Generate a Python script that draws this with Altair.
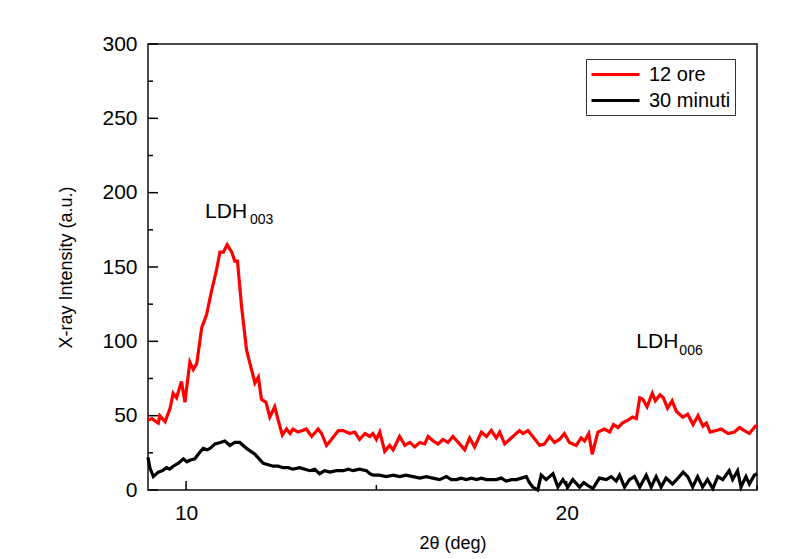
import altair as alt
import pandas as pd

# ---- data ----
red_x = [9.00, 9.10, 9.27, 9.31, 9.45, 9.58, 9.66, 9.75, 9.88, 9.97,
         10.10, 10.19, 10.28, 10.41, 10.54, 10.67, 10.80, 10.89, 10.98, 11.08,
         11.20, 11.28, 11.35, 11.46, 11.59, 11.72, 11.81, 11.90, 11.98, 12.10,
         12.20, 12.33, 12.42, 12.53, 12.64, 12.73, 12.81, 12.94, 13.06, 13.16,
         13.30, 13.47, 13.56, 13.69, 13.82, 14.00, 14.13, 14.30, 14.43, 14.56,
         14.70, 14.83, 14.91, 15.00, 15.09, 15.22, 15.35, 15.44, 15.61, 15.75,
         15.88, 16.01, 16.14, 16.27, 16.36, 16.49, 16.62, 16.75, 16.88, 17.01,
         17.15, 17.32, 17.45, 17.58, 17.76, 17.89, 18.02, 18.15, 18.24, 18.37,
         18.50, 18.63, 18.76, 18.85, 18.98, 19.11, 19.29, 19.42, 19.55, 19.68,
         19.81, 19.94, 20.07, 20.25, 20.38, 20.47, 20.58, 20.67, 20.82, 20.99,
         21.13, 21.23, 21.35, 21.46, 21.61, 21.73, 21.83, 21.92, 22.00, 22.11,
         22.25, 22.33, 22.45, 22.54, 22.65, 22.77, 22.88, 23.05, 23.18, 23.32,
         23.45, 23.58, 23.67, 23.77, 23.93, 24.06, 24.24, 24.41, 24.54, 24.67,
         24.80, 24.96, 25.00]
red_y = [47, 48, 45, 50, 46, 55, 65, 62, 73, 59,
         86, 81, 85, 109, 118, 134, 148, 160, 160, 165,
         160, 154, 154, 123, 94, 81, 72, 76, 61, 59,
         49, 56, 47, 37, 41, 38, 41, 39, 40, 41,
         36, 41, 38, 30, 34, 40, 40, 38, 39, 34,
         38, 36, 38, 34, 39, 26, 30, 27, 36, 30,
         32, 29, 32, 31, 36, 33, 31, 34, 32, 36,
         32, 27, 35, 29, 39, 36, 40, 35, 39, 31,
         34, 37, 40, 38, 40, 36, 30, 31, 36, 32,
         34, 38, 32, 30, 35, 33, 38, 24, 39, 41,
         39, 44, 42, 45, 47, 49, 48, 62, 61, 56,
         65, 60, 64, 62, 55, 60, 53, 49, 51, 44,
         50, 43, 45, 39, 40, 41, 38, 39, 42, 40,
         38, 43, 43]

black_x = [9.00, 9.05, 9.14, 9.27, 9.38, 9.49, 9.57, 9.66, 9.80, 9.93,
           10.02, 10.10, 10.23, 10.35, 10.45, 10.55, 10.63, 10.76, 10.90, 11.02,
           11.15, 11.28, 11.41, 11.59, 11.70, 11.81, 11.92, 12.03, 12.16, 12.29,
           12.42, 12.55, 12.68, 12.81, 12.99, 13.12, 13.25, 13.38, 13.51, 13.64,
           13.78, 13.95, 14.13, 14.26, 14.39, 14.56, 14.74, 14.83, 14.91, 15.08,
           15.26, 15.44, 15.61, 15.78, 15.96, 16.14, 16.31, 16.48, 16.66, 16.84,
           16.97, 17.10, 17.23, 17.36, 17.50, 17.63, 17.76, 17.89, 18.02, 18.15,
           18.28, 18.41, 18.55, 18.68, 18.81, 18.94, 19.02, 19.11, 19.24, 19.33,
           19.46, 19.64, 19.77, 19.90, 20.03, 20.16, 20.34, 20.45, 20.56, 20.69,
           20.86, 21.04, 21.17, 21.30, 21.39, 21.52, 21.65, 21.78, 21.92, 22.09,
           22.22, 22.35, 22.48, 22.61, 22.78, 22.96, 23.06, 23.18, 23.31, 23.44,
           23.57, 23.70, 23.84, 23.97, 24.10, 24.27, 24.36, 24.49, 24.58, 24.71,
           24.80, 24.93, 25.00]
black_y = [22, 15, 9, 12, 13, 15, 14, 16, 18, 21,
           19, 20, 21, 25, 28, 27, 28, 31, 32, 33,
           30, 32, 32, 28, 26, 24, 21, 18, 17, 16,
           16, 15, 15, 14, 15, 14, 13, 14, 11, 13,
           12, 13, 13, 14, 13, 14, 13, 11, 10, 10,
           9, 10, 9, 10, 9, 8, 9, 8, 7, 9,
           7, 7, 8, 7, 8, 7, 8, 7, 7, 7,
           8, 6, 7, 7, 8, 9, 5, 2, 0, 10,
           7, 11, 2, 7, 2, 7, 2, 5, 3, 1,
           8, 7, 9, 6, 10, 2, 7, 9, 2, 10,
           2, 9, 2, 8, 4, 9, 12, 9, 2, 9,
           2, 7, 1, 9, 7, 13, 7, 13, 2, 9,
           4, 10, 11]

series_names = ["12 ore", "30 minuti"]
series_colors = ["#ff0000", "#000000"]

x_major = [10, 20]
x_minor = [15, 25]
y_major = [0, 50, 100, 150, 200, 250, 300]
y_minor = [25, 75, 125, 175, 225, 275]

ann_main_text = ["LDH", "LDH"]
ann_main_x = [10.50, 21.83]
ann_main_y = [182.9, 95.3]
ann_sub_text = ["003", "006"]
ann_sub_x = [11.68, 22.96]
ann_sub_y = [178.9, 90.8]

# ---- tables ----
lines_df = pd.concat([
    pd.DataFrame({"x": red_x, "y": red_y, "series": series_names[0]}),
    pd.DataFrame({"x": black_x, "y": black_y, "series": series_names[1]}),
], ignore_index=True)

FONT = "Liberation Sans"
xscale = alt.Scale(domain=[9, 25], nice=False, zero=False)
yscale = alt.Scale(domain=[0, 300], nice=False, zero=False)

xaxis = alt.Axis(values=x_major, ticks=False, domain=False, grid=False,
                 labelFont=FONT, labelFontSize=21, labelPadding=12, labelColor="#000",
                 title="2θ (deg)", titleFont=FONT, titleFontSize=18,
                 titleFontWeight="normal", titlePadding=11, titleColor="#000")
yaxis = alt.Axis(values=y_major, ticks=False, domain=False, grid=False,
                 labelFont=FONT, labelFontSize=21, labelPadding=11, labelColor="#000",
                 title="X-ray Intensity (a.u.)", titleFont=FONT, titleFontSize=18,
                 titleFontWeight="normal", titlePadding=26, titleColor="#000")

X = lambda f: alt.X(f, type="quantitative", scale=xscale, axis=xaxis)
Y = lambda f: alt.Y(f, type="quantitative", scale=yscale, axis=yaxis)

lines = alt.Chart(lines_df).mark_line(strokeWidth=3.2).encode(
    x=X("x"), y=Y("y"),
    color=alt.Color("series:N",
                    scale=alt.Scale(domain=series_names, range=series_colors),
                    legend=alt.Legend(title=None, orient="none", legendX=438, legendY=15,
                                      symbolType="M-1,0H3.8", symbolSize=400,
                                      symbolStrokeWidth=3, labelOffset=36,
                                      labelFont=FONT, labelFontSize=20, labelColor="#000",
                                      strokeColor="#333", padding=4, rowPadding=4)),
)

ytick_major = alt.Chart(pd.DataFrame({"y": y_major})).mark_rule(color="#000", strokeWidth=1.5).encode(
    y=Y("y"), x=alt.value(0), x2=alt.value(10))
ytick_minor = alt.Chart(pd.DataFrame({"y": y_minor})).mark_rule(color="#000", strokeWidth=1.5).encode(
    y=Y("y"), x=alt.value(0), x2=alt.value(5))
xtick_major = alt.Chart(pd.DataFrame({"x": x_major})).mark_rule(color="#000", strokeWidth=1.5).encode(
    x=X("x"), y=alt.value(446), y2=alt.value(437))
xtick_minor = alt.Chart(pd.DataFrame({"x": x_minor})).mark_rule(color="#000", strokeWidth=1.5).encode(
    x=X("x"), y=alt.value(446), y2=alt.value(441))

ann_main = alt.Chart(pd.DataFrame({"x": ann_main_x, "y": ann_main_y, "t": ann_main_text})).mark_text(
    font=FONT, fontSize=21, align="left", baseline="alphabetic", color="#000").encode(
    x=X("x"), y=Y("y"), text="t:N")
ann_sub = alt.Chart(pd.DataFrame({"x": ann_sub_x, "y": ann_sub_y, "t": ann_sub_text})).mark_text(
    font=FONT, fontSize=14, align="left", baseline="alphabetic", color="#000").encode(
    x=X("x"), y=Y("y"), text="t:N")

chart = alt.layer(lines, ytick_major, ytick_minor, xtick_major, xtick_minor, ann_main, ann_sub).properties(
    width=609, height=446,
    autosize=alt.AutoSizeParams(type="none"),
    padding={"left": 140, "top": 36, "right": 30, "bottom": 66},
    background="white",
).configure_view(stroke="#111", strokeWidth=1.5)

chart.save("out.html", embed_options={"renderer": "svg", "actions": False})
